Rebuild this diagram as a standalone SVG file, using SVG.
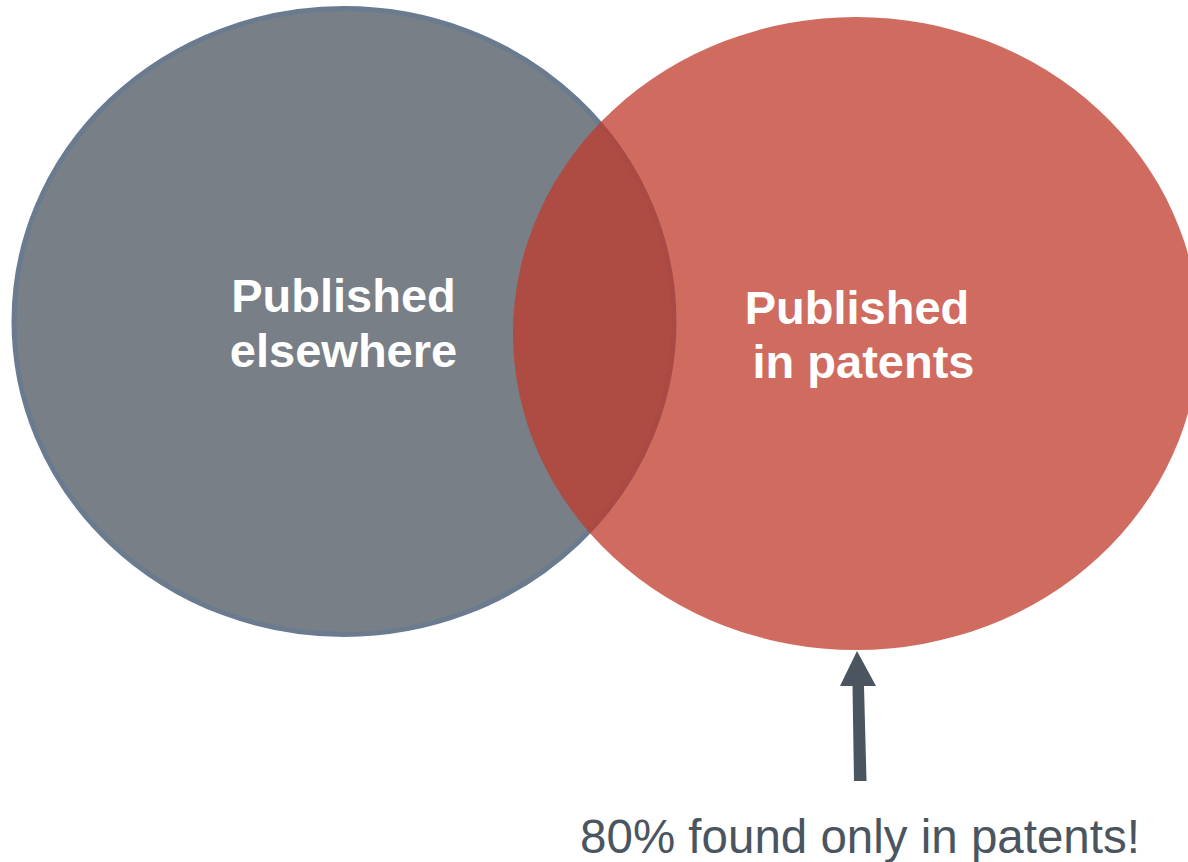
<svg xmlns="http://www.w3.org/2000/svg" width="1188" height="862" viewBox="0 0 1188 862">
<style>
.lbl{font-family:"Liberation Sans",Arial,sans-serif;font-weight:bold;font-size:47px;fill:#ffffff;text-anchor:middle}
.note{font-family:"Liberation Sans",Arial,sans-serif;font-size:47.5px;fill:#4B5560;text-anchor:middle}
</style>
<rect width="1188" height="862" fill="#ffffff"/>
<g id="elsewhere">
<ellipse cx="344" cy="321.5" rx="330" ry="313" fill="#787F86" stroke="#6A7B8F" stroke-width="5"/>
</g>
<g id="patents">
<ellipse cx="856" cy="333.5" rx="343" ry="316.5" fill="#C0392B" fill-opacity="0.75"/>
</g>
<g id="label-elsewhere">
<text class="lbl" x="343.5" y="312">Published</text>
<text class="lbl" x="343.5" y="367">elsewhere</text>
</g>
<g id="label-patents">
<text class="lbl" x="857" y="324">Published</text>
<text class="lbl" x="863.5" y="378">in patents</text>
</g>
<g id="connectors">
<polygon points="854,781 866.5,781 864,686 876,686 857,651 840,686 852.5,686" fill="#4B5560"/>
</g>
<g id="note">
<text class="note" x="860" y="853">80% found only in patents!</text>
</g>
</svg>
